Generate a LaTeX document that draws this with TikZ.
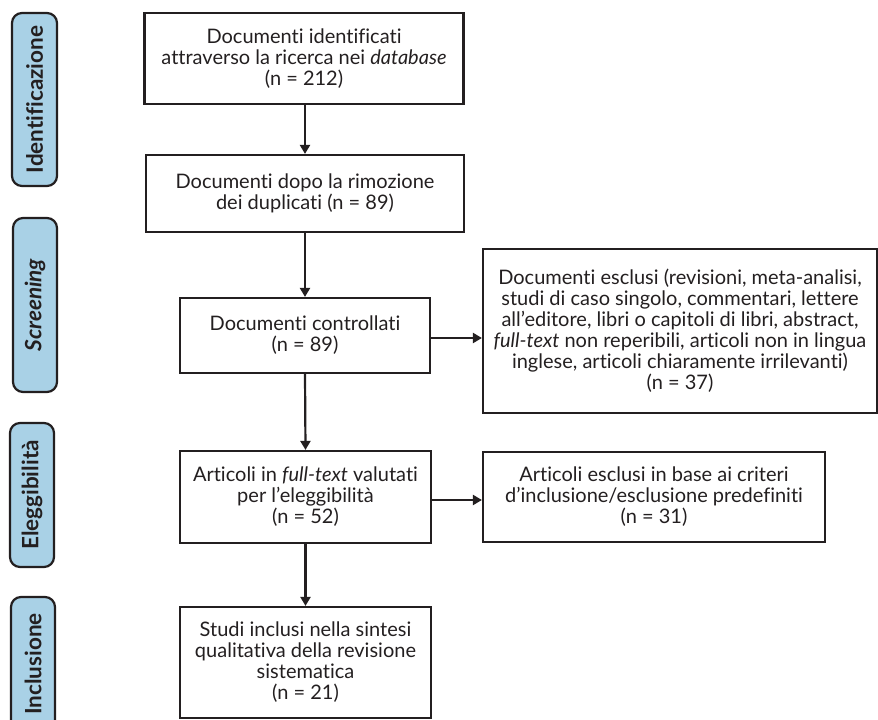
\documentclass[tikz,border=0pt]{standalone}
\usepackage{fontspec}
\setmainfont{Lato}[Ligatures={NoCommon,NoRare}]
\usetikzlibrary{arrows.meta}
\definecolor{ink}{HTML}{231F20}
\definecolor{lab}{HTML}{A9D1E6}
\begin{document}
\begin{tikzpicture}[x=1pt,y=-1pt,
  box/.style={draw=ink, line width=2.2pt, text=ink, align=center,
    font=\fontsize{20}{21}\selectfont, inner sep=0pt},
  side/.style={draw=ink, fill=lab, line width=2.2pt, rounded corners=10pt,
    text=ink, font=\fontsize{22.5}{24}\selectfont\bfseries, inner sep=0pt, rotate=90},
  arr/.style={draw=ink, line width=2.2pt, -{Triangle[length=9pt,width=10pt]}}]
\useasboundingbox (0,0) rectangle (878,720);
% phase labels
\node[side, minimum width=173pt, minimum height=45pt] (l1) at (34.5,99.5) {Identificazione};
\node[side, minimum width=174pt, minimum height=44pt] (l2) at (35,305) {\itshape Screening};
\node[side, minimum width=144pt, minimum height=44pt] (l3) at (32,495) {Eleggibilità};
\node[side, minimum width=134pt, minimum height=44pt] (l4) at (33,664) {Inclusione};
% main column
\node[box, minimum width=319pt, minimum height=91pt] (b1) at (304,58.5)
  {Documenti identificati\\attraverso la ricerca nei \textit{database}\\(n = 212)};
\node[box, minimum width=318pt, minimum height=77pt] (b2) at (305,193.5)
  {Documenti dopo la rimozione\\dei duplicati (n = 89)};
\node[box, minimum width=250pt, minimum height=75pt] (b3) at (305,335.5)
  {Documenti controllati\\(n = 89)};
\node[box, minimum width=251pt, minimum height=92pt] (b4) at (305.5,497)
  {Articoli in \textit{full-text} valutati\\per l’eleggibilità\\(n = 52)};
\node[box, minimum width=251pt, minimum height=111pt] (b5) at (305.5,662.5)
  {Studi inclusi nella sintesi\\qualitativa della revisione\\sistematica\\(n = 21)};
% exclusions
\node[box, minimum width=394pt, minimum height=164pt] (r1) at (680,331)
  {Documenti esclusi (revisioni, meta-analisi,\\studi di caso singolo, commentari, lettere\\all’editore, libri o capitoli di libri, abstract,\\\textit{full-text} non reperibili, articoli non in lingua\\inglese, articoli chiaramente irrilevanti)\\(n = 37)};
\node[box, minimum width=342pt, minimum height=90pt] (r2) at (654,497)
  {Articoli esclusi in base ai criteri\\d’inclusione/esclusione predefiniti\\(n = 31)};
% connectors
\draw[arr] (b1.south -| b2.north) -- (b2.north);
\draw[arr] (b2.south) -- (b3.north);
\draw[arr] (b3.south) -- (b4.north);
\draw[arr] (b4.south) -- (b5.north);
\draw[arr] ([yshift=-2.5pt]b3.east) -- ([yshift=-2.5pt]b3.east -| r1.west);
\draw[arr] ([yshift=-3pt]b4.east) -- ([yshift=-3pt]b4.east -| r2.west);
\end{tikzpicture}
\end{document}
